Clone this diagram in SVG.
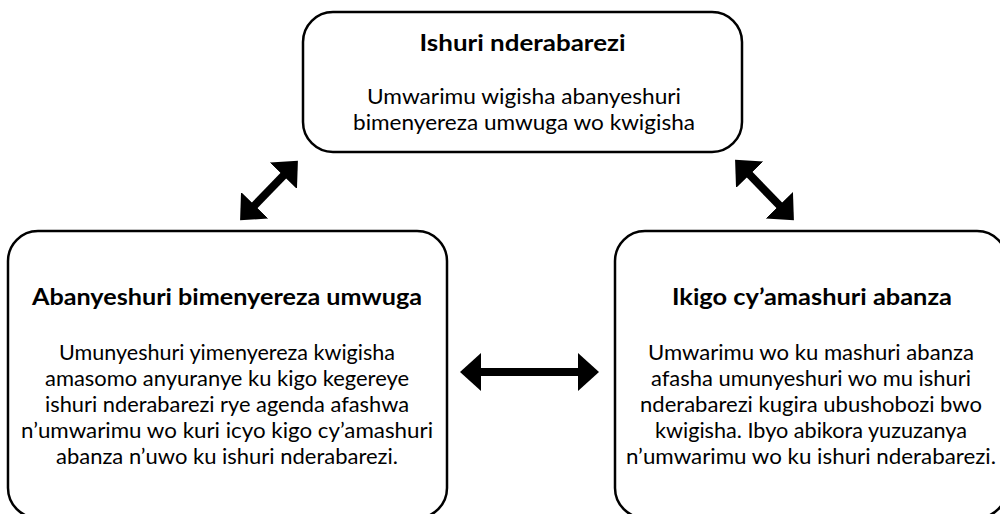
<svg xmlns="http://www.w3.org/2000/svg" width="1000" height="514" viewBox="0 0 1000 514">
<defs>
<style>
.box{fill:#fff;stroke:#000;stroke-width:2.5}
.t{font-family:Lato,"Open Sans","Liberation Sans",sans-serif;font-size:22px;font-weight:700;fill:#000;text-anchor:middle}
.b{font-family:Lato,"Open Sans","Liberation Sans",sans-serif;font-size:22px;fill:#000;text-anchor:middle}
.arr{stroke:#000;stroke-width:8;fill:none;marker-start:url(#head);marker-end:url(#head)}
</style>
<marker id="head" markerUnits="userSpaceOnUse" markerWidth="22" markerHeight="40" viewBox="0 0 22 40" refX="1" refY="19" orient="auto-start-reverse">
<path d="M0,0 L21,19 L0,38 z" fill="#000"/>
</marker>
</defs>
<rect width="1000" height="514" fill="#fff"/>
<g id="connectors">
<line class="arr" x1="254" y1="206" x2="284" y2="175"/>
<line class="arr" x1="749" y1="174" x2="780" y2="206"/>
<line class="arr" x1="480" y1="372" x2="579" y2="372"/>
</g>
<g id="node-top">
<rect class="box" x="303" y="12" width="439" height="140" rx="30"/>
<text class="t" x="522.5" y="51" textLength="206" lengthAdjust="spacingAndGlyphs">Ishuri nderabarezi</text>
<text class="b" x="524" y="104" textLength="314" lengthAdjust="spacingAndGlyphs">Umwarimu wigisha abanyeshuri</text>
<text class="b" x="524" y="130" textLength="342" lengthAdjust="spacingAndGlyphs">bimenyereza umwuga wo kwigisha</text>
</g>
<g id="node-left">
<rect class="box" x="8" y="231" width="439" height="287" rx="30"/>
<text class="t" x="227" y="305" textLength="390" lengthAdjust="spacingAndGlyphs">Abanyeshuri bimenyereza umwuga</text>
<text class="b" x="227" y="360" textLength="336" lengthAdjust="spacingAndGlyphs">Umunyeshuri yimenyereza kwigisha</text>
<text class="b" x="227" y="386" textLength="364" lengthAdjust="spacingAndGlyphs">amasomo anyuranye ku kigo kegereye</text>
<text class="b" x="227" y="412" textLength="364" lengthAdjust="spacingAndGlyphs">ishuri nderabarezi rye agenda afashwa</text>
<text class="b" x="227" y="438" textLength="412" lengthAdjust="spacingAndGlyphs">n’umwarimu wo kuri icyo kigo cy’amashuri</text>
<text class="b" x="227" y="464" textLength="342" lengthAdjust="spacingAndGlyphs">abanza n’uwo ku ishuri nderabarezi.</text>
</g>
<g id="node-right">
<rect class="box" x="615" y="231" width="392" height="287" rx="30"/>
<text class="t" x="812" y="305" textLength="280" lengthAdjust="spacingAndGlyphs">Ikigo cy’amashuri abanza</text>
<text class="b" x="811" y="360" textLength="326" lengthAdjust="spacingAndGlyphs">Umwarimu wo ku mashuri abanza</text>
<text class="b" x="811" y="386" textLength="320" lengthAdjust="spacingAndGlyphs">afasha umunyeshuri wo mu ishuri</text>
<text class="b" x="811" y="412" textLength="342" lengthAdjust="spacingAndGlyphs">nderabarezi kugira ubushobozi bwo</text>
<text class="b" x="811" y="438" textLength="312" lengthAdjust="spacingAndGlyphs">kwigisha. Ibyo abikora yuzuzanya</text>
<text class="b" x="811" y="464" textLength="370" lengthAdjust="spacingAndGlyphs">n’umwarimu wo ku ishuri nderabarezi.</text>
</g>
</svg>
